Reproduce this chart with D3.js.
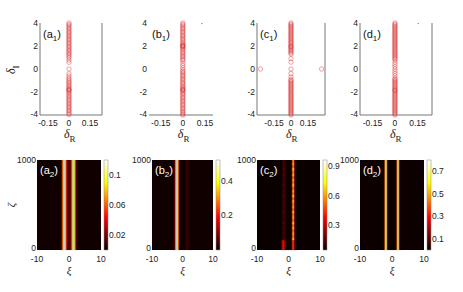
<!DOCTYPE html>
<html>
<head>
<meta charset="utf-8">
<script src="https://cdn.jsdelivr.net/npm/d3@7"></script>
<style>
body { margin: 0; background: #fff; }
text { font-family: Arial, "Liberation Sans", sans-serif; fill: #222; }
.sym { font-family: "Liberation Serif", "DejaVu Serif", serif; font-style: italic; }
</style>
</head>
<body>
<div id="chart"></div>
<script>
// ---- top row: delta_I of the eigenvalues (all sitting near delta_R = 0)
var a1I = [4.0,3.88,3.76,3.64,3.52,3.4,3.28,3.16,3.04,2.92,2.8,2.68,2.56,2.44,2.32,2.2,2.08,1.96,1.84,1.72,1.6,1.48,1.36,1.24,1.12,0.98,0.78,0.58,0.0,-0.42,-0.62,-0.8,-0.94,-1.06,-1.18,-1.3,-1.42,-1.54,-1.66,-1.74,-1.8,-1.86,-1.92,-2.04,-2.16,-2.28,-2.4,-2.52,-2.64,-2.76,-2.88,-3.0,-3.12,-3.24,-3.36,-3.48,-3.6,-3.72,-3.84,-3.96];
var b1I = [4.0,3.88,3.76,3.64,3.52,3.4,3.28,3.16,3.04,2.92,2.8,2.68,2.56,2.44,2.32,2.2,2.1,2.04,2.0,1.96,1.9,1.8,1.68,1.56,1.44,1.32,1.2,1.08,0.96,0.84,0.72,0.5,0.3,0.1,-0.08,-0.2,-0.32,-0.44,-0.56,-0.68,-0.8,-0.92,-1.04,-1.16,-1.28,-1.4,-1.52,-1.64,-1.72,-1.78,-1.84,-1.9,-2.0,-2.12,-2.24,-2.36,-2.48,-2.6,-2.72,-2.84,-2.96,-3.08,-3.2,-3.32,-3.44,-3.56,-3.68,-3.8,-3.92,-4.0];
var c1I = [4.0,3.9,3.8,3.7,3.6,3.5,3.4,3.3,3.2,3.1,3.0,2.9,2.8,2.7,2.6,2.5,2.4,2.3,2.2,2.1,2.0,1.95,1.9,1.8,1.7,1.6,1.5,1.4,1.3,0.9,0.6,0.0,-0.4,-0.7,-0.9,-1.0,-1.1,-1.2,-1.3,-1.4,-1.5,-1.6,-1.7,-1.8,-1.9,-2.0,-2.1,-2.2,-2.3,-2.4,-2.5,-2.6,-2.7,-2.8,-2.9,-3.0,-3.1,-3.2,-3.3,-3.4,-3.5,-3.6,-3.7,-3.8,-3.9,-4.0];
var d1I = [4.0,3.9,3.8,3.7,3.6,3.5,3.4,3.3,3.2,3.1,3.0,2.9,2.8,2.7,2.6,2.5,2.4,2.3,2.2,2.1,2.0,1.9,1.8,1.7,1.6,1.5,1.4,1.3,1.2,1.1,1.0,0.9,0.8,0.6,0.4,0.2,0.0,-0.2,-0.4,-0.6,-0.8,-0.9,-1.0,-1.1,-1.2,-1.3,-1.4,-1.5,-1.6,-1.7,-1.8,-1.85,-1.9,-2.0,-2.1,-2.2,-2.3,-2.4,-2.5,-2.6,-2.7,-2.8,-2.9,-3.0,-3.1,-3.2,-3.3,-3.4,-3.5,-3.6,-3.7,-3.8,-3.9,-4.0];
// off-axis eigenvalues in (c1)
var c1OutR = [-0.27, 0.27];
var c1OutI = [0, 0];
// tiny stray points in (b1) and (d1)
var b1DotR = [0.13], b1DotI = [3.95];
var d1DotR = [0.155], d1DotI = [3.95];

var topTicksY = [-4, -2, 0, 2, 4];
var topTicksX = [-0.15, 0, 0.15];

// ---- bottom row: |psi|^2 profile across xi (same for every zeta)
var xiGrid = [-3.0,-2.8,-2.6,-2.4,-2.2,-2.0,-1.8,-1.6,-1.4,-1.2,-1.0,-0.8,-0.6,-0.4,-0.2,0,0.2,0.4,0.6,0.8,1.0,1.2,1.4,1.6,1.8,2.0,2.2,2.4,2.6,2.8,3.0];
var a2Val = [0.001,0.002,0.004,0.012,0.03,0.065,0.098,0.115,0.12,0.112,0.09,0.055,0.03,0.018,0.013,0.012,0.013,0.018,0.03,0.055,0.09,0.112,0.12,0.115,0.098,0.065,0.03,0.012,0.004,0.002,0.001];
var b2Val = [0.005,0.015,0.06,0.2,0.4,0.5,0.52,0.5,0.4,0.2,0.06,0.015,0.006,0.004,0.003,0.003,0.003,0.004,0.006,0.01,0.018,0.03,0.042,0.046,0.042,0.03,0.018,0.01,0.005,0.003,0.002];
var c2Val = [0.05,0.05,0.05,0.055,0.065,0.08,0.12,0.16,0.17,0.14,0.1,0.07,0.06,0.055,0.055,0.055,0.055,0.055,0.06,0.08,0.15,0.45,0.72,0.75,0.5,0.18,0.08,0.06,0.05,0.05,0.05];
var c2Low = [0.05,0.05,0.055,0.07,0.15,0.3,0.4,0.42,0.4,0.3,0.15,0.07,0.06,0.055,0.055,0.055,0.055,0.055,0.06,0.08,0.15,0.35,0.5,0.5,0.35,0.15,0.07,0.055,0.05,0.05,0.05];
var c2Stripe = [1.15,0.9,1.0,0.85,1.1,0.9,1.2,0.85,1.0,0.9,1.15,0.85,1.0,0.9,1.1,0.85,1.2,0.9,1.0,0.85,1.15,0.9,1.0,0.85,1.1,0.9,1.2,0.85,1.0,0.9];
var d2Val = [0.001,0.003,0.02,0.12,0.5,0.74,0.78,0.55,0.15,0.04,0.01,0.004,0.002,0.001,0.001,0.001,0.001,0.001,0.002,0.004,0.01,0.04,0.15,0.55,0.78,0.74,0.5,0.12,0.02,0.003,0.001];

var a2Ticks = [0.02, 0.06, 0.1];
var b2Ticks = [0.2, 0.4];
var c2Ticks = [0.3, 0.6, 0.9];
var d2Ticks = [0.1, 0.3, 0.5, 0.7];

// MATLAB "hot" colormap knots
var hotT = [0, 0.365, 0.75, 1];
var hotC = ["#0b0000", "#ff0000", "#ffff00", "#ffffff"];

var W = 463, H = 292;
var svg = d3.select("#chart").append("svg").attr("width", W).attr("height", H);
var defs = svg.append("defs");

function panelLabel(g, x, y, letter, idx, color) {
    var t = g.append("text").attr("x", x).attr("y", y)
        .style("font-size", "11px").style("fill", color);
    t.append("tspan").text("(" + letter);
    t.append("tspan").attr("dy", 3).style("font-size", "8px").text(idx);
    t.append("tspan").attr("dy", -3).text(")");
}

// ================= top row =================
var topY0 = 23, topY1 = 115;
var yTop = d3.scaleLinear().domain([-4, 4]).range([topY1, topY0]);

var topPanels = [
    {l: "a", x0: 40,  x1: 102, dom: [-0.207, 0.236], sides: true,  pts: a1I},
    {l: "b", x0: 149, x1: 213, dom: [-0.23, 0.205],  sides: false, pts: b1I, dotR: b1DotR, dotI: b1DotI},
    {l: "c", x0: 257, x1: 325, dom: [-0.3, 0.3],     sides: true,  pts: c1I, outR: c1OutR, outI: c1OutI},
    {l: "d", x0: 360, x1: 432, dom: [-0.233, 0.247], sides: true,  pts: d1I, dotR: d1DotR, dotI: d1DotI}
];

var evStroke = "#d62626";

topPanels.forEach(function(p) {
    var x = d3.scaleLinear().domain(p.dom).range([p.x0, p.x1]);
    var g = svg.append("g");

    // axes lines
    g.append("line").attr("x1", p.x0).attr("x2", p.x1).attr("y1", topY1).attr("y2", topY1)
        .attr("stroke", "#777").attr("stroke-width", 1);
    if (p.sides) {
        g.append("line").attr("x1", p.x0).attr("x2", p.x0).attr("y1", topY0).attr("y2", topY1)
            .attr("stroke", "#777").attr("stroke-width", 1);
        g.append("line").attr("x1", p.x1).attr("x2", p.x1).attr("y1", topY0).attr("y2", topY1)
            .attr("stroke", "#777").attr("stroke-width", 1);
    }

    g.selectAll("text.yt").data(topTicksY).enter().append("text")
        .attr("class", "yt")
        .attr("x", p.x0 - 2).attr("y", function(d) { return yTop(d) - (d === -4 ? 1 : 0); })
        .attr("dy", "0.35em").attr("text-anchor", "end")
        .style("font-size", "8.5px")
        .text(function(d) { return d; });

    g.selectAll("text.xt").data(topTicksX).enter().append("text")
        .attr("class", "xt")
        .attr("x", function(d) { return x(d); }).attr("y", topY1 + 11)
        .attr("text-anchor", "middle")
        .style("font-size", "8.5px")
        .text(function(d) { return d; });

    // x label delta_R
    var xl = g.append("text").attr("class", "sym").attr("x", x(0) - 5).attr("y", topY1 + 23)
        .style("font-size", "12px");
    xl.append("tspan").text("\u03B4");
    xl.append("tspan").attr("dy", 4).style("font-size", "9px").style("font-style", "normal").text("R");

    // eigenvalue circles
    g.selectAll("circle.ev").data(p.pts).enter().append("circle")
        .attr("class", "ev")
        .attr("cx", x(0)).attr("cy", function(d) { return yTop(d); })
        .attr("r", 2.2).attr("fill", "none")
        .attr("stroke", evStroke).attr("stroke-opacity", 0.6).attr("stroke-width", 0.7);

    if (p.outR) {
        g.selectAll("circle.out").data(p.outR).enter().append("circle")
            .attr("class", "out")
            .attr("cx", function(d) { return x(d); })
            .attr("cy", function(d, i) { return yTop(p.outI[i]); })
            .attr("r", 2.2).attr("fill", "none")
            .attr("stroke", evStroke).attr("stroke-opacity", 0.6).attr("stroke-width", 0.7);
    }
    if (p.dotR) {
        g.selectAll("circle.dot").data(p.dotR).enter().append("circle")
            .attr("class", "dot")
            .attr("cx", function(d) { return x(d); })
            .attr("cy", function(d, i) { return yTop(p.dotI[i]); })
            .attr("r", 0.6).attr("fill", "#555");
    }

    panelLabel(g, p.x0 + 3, topY0 + 15, p.l, "1", "#111");
});

// y label delta_I
var yl = svg.append("text").attr("class", "sym")
    .attr("transform", "translate(15," + (yTop(0) + 5) + ") rotate(-90)")
    .style("font-size", "12px");
yl.append("tspan").text("\u03B4");
yl.append("tspan").attr("dy", 4).style("font-size", "9px").style("font-style", "normal").text("I");

// ================= bottom row =================
var botY0 = 160, botY1 = 250;
var yBot = d3.scaleLinear().domain([0, 1000]).range([botY1, botY0]);

var heatPanels = [
    {l: "a", x0: 37,  x1: 101, cdom: [0, 0.12],    ticks: a2Ticks, rows: [{z0: 0, z1: 1000, v: a2Val}]},
    {l: "b", x0: 152, x1: 213, cdom: [0, 0.52],    ticks: b2Ticks, rows: [{z0: 0, z1: 1000, v: b2Val}]},
    {l: "c", x0: 257, x1: 320, cdom: [0.05, 0.96], ticks: c2Ticks, rows: null},
    {l: "d", x0: 360, x1: 424, cdom: [0, 0.8],     ticks: d2Ticks, rows: [{z0: 0, z1: 1000, v: d2Val}]}
];

// (c2): bright start region near zeta = 0, then striped upper part
(function() {
    var rows = [{z0: 0, z1: 110, v: c2Low}];
    var h = (1000 - 110) / c2Stripe.length;
    c2Stripe.forEach(function(f, i) {
        var bg = c2Val[0];
        rows.push({z0: 110 + i * h, z1: 110 + (i + 1) * h,
                   v: c2Val.map(function(v) { return bg + (v - bg) * f; })});
    });
    heatPanels[2].rows = rows;
})();

// cell edges half way between grid points
var xiEdges = xiGrid.map(function(v, i) {
    return i === 0 ? v - (xiGrid[1] - xiGrid[0]) / 2 : (xiGrid[i - 1] + v) / 2;
});
xiEdges.push(xiGrid[xiGrid.length - 1] + (xiGrid[1] - xiGrid[0]) / 2);

heatPanels.forEach(function(p, pi) {
    var x = d3.scaleLinear().domain([-10, 10]).range([p.x0, p.x1]);
    var color = d3.scaleLinear()
        .domain(hotT.map(function(t) { return p.cdom[0] + t * (p.cdom[1] - p.cdom[0]); }))
        .range(hotC).clamp(true);
    var g = svg.append("g");

    // background (value far from the solitons)
    g.append("rect").attr("x", x(-10)).attr("y", yBot(1000))
        .attr("width", x(10) - x(-10)).attr("height", yBot(0) - yBot(1000))
        .attr("fill", color(p.rows[p.rows.length - 1].v[0]));

    p.rows.forEach(function(r) {
        g.selectAll(null).data(r.v).enter().append("rect")
            .attr("x", function(d, i) { return x(xiEdges[i]); })
            .attr("width", function(d, i) { return x(xiEdges[i + 1]) - x(xiEdges[i]) + 0.05; })
            .attr("y", yBot(r.z1))
            .attr("height", yBot(r.z0) - yBot(r.z1) + 0.05)
            .attr("fill", function(d) { return color(d); });
    });

    // ticks
    g.selectAll("text.xt").data([-10, 0, 10]).enter().append("text")
        .attr("class", "xt")
        .attr("x", function(d) { return x(d); }).attr("y", botY1 + 12)
        .attr("text-anchor", "middle").style("font-size", "8.5px")
        .text(function(d) { return d; });
    g.selectAll("text.yt").data([0, 1000]).enter().append("text")
        .attr("class", "yt")
        .attr("x", p.x0 - 1).attr("y", function(d) { return yBot(d) - (d === 0 ? 2 : 0); })
        .attr("dy", "0.35em").attr("text-anchor", "end").style("font-size", "8.5px")
        .text(function(d) { return d; });

    // x label xi
    g.append("text").attr("class", "sym").attr("x", x(0)).attr("y", botY1 + 24)
        .attr("text-anchor", "middle").style("font-size", "11px").text("\u03BE");

    // colorbar
    var gid = "hot" + pi;
    var grad = defs.append("linearGradient").attr("id", gid)
        .attr("x1", 0).attr("y1", 1).attr("x2", 0).attr("y2", 0);
    grad.selectAll("stop").data(hotT).enter().append("stop")
        .attr("offset", function(d) { return d; })
        .attr("stop-color", function(d, i) { return hotC[i]; });
    var cb = d3.scaleLinear().domain(p.cdom).range([botY1, botY0]);
    var cx0 = p.x1 + 3, cw = 4;
    g.append("rect").attr("x", cx0).attr("y", botY0).attr("width", cw).attr("height", botY1 - botY0)
        .attr("fill", "url(#" + gid + ")").attr("stroke", "#888").attr("stroke-width", 0.5);
    g.selectAll("text.ct").data(p.ticks).enter().append("text")
        .attr("class", "ct")
        .attr("x", cx0 + cw + 1).attr("y", function(d) { return cb(d); })
        .attr("dy", "0.35em").style("font-size", "8.5px")
        .text(function(d) { return d; });

    panelLabel(g, p.x0 + 3, botY0 + 14, p.l, "2", "#fff");
});

// y label zeta
svg.append("text").attr("class", "sym")
    .attr("transform", "translate(15," + yBot(500) + ") rotate(-90)")
    .attr("text-anchor", "middle").style("font-size", "11px").text("\u03B6");
</script>
</body>
</html>
